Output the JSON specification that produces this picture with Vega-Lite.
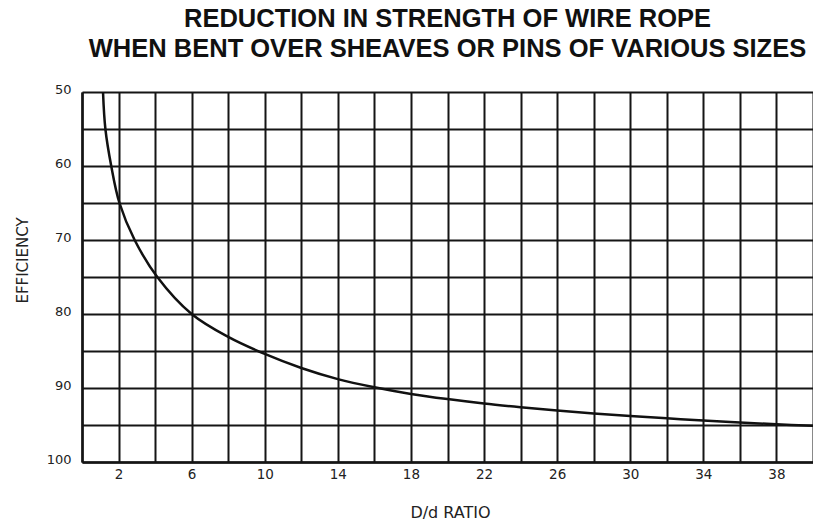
{
  "$schema": "https://vega.github.io/schema/vega-lite/v6.json",
  "width": 731,
  "height": 370,
  "autosize": {"type": "none"},
  "padding": {"left": 82, "top": 92, "right": 0, "bottom": 61},
  "background": "white",
  "title": {
    "text": ["REDUCTION IN STRENGTH OF WIRE ROPE", "WHEN BENT OVER SHEAVES OR PINS OF VARIOUS SIZES"],
    "font": "Liberation Sans",
    "fontSize": 25.5,
    "fontWeight": "bold",
    "color": "#111",
    "lineHeight": 30,
    "anchor": "middle",
    "frame": "group",
    "offset": 21
  },
  "config": {
    "view": {"stroke": null},
    "axis": {
      "labelFont": "DejaVu Sans",
      "labelFontSize": 13,
      "labelColor": "#222",
      "titleFont": "DejaVu Sans",
      "titleColor": "#222",
      "titleFontWeight": "normal",
      "gridColor": "#151515",
      "gridWidth": 2,
      "gridOpacity": 1,
      "ticks": false,
      "domainColor": "#151515",
      "domainWidth": 2.5
    }
  },
  "data": {
    "values": [
      {"ratio": 1.15, "eff": 50},
      {"ratio": 1.28, "eff": 55},
      {"ratio": 1.6, "eff": 60},
      {"ratio": 2.05, "eff": 65},
      {"ratio": 2.88, "eff": 70},
      {"ratio": 4.12, "eff": 75},
      {"ratio": 6, "eff": 80},
      {"ratio": 8, "eff": 83.1},
      {"ratio": 10, "eff": 85.4},
      {"ratio": 12, "eff": 87.3},
      {"ratio": 14, "eff": 88.8},
      {"ratio": 16, "eff": 89.9},
      {"ratio": 18, "eff": 90.8},
      {"ratio": 20, "eff": 91.5},
      {"ratio": 22, "eff": 92.1},
      {"ratio": 24, "eff": 92.6},
      {"ratio": 26, "eff": 93.05},
      {"ratio": 28, "eff": 93.45},
      {"ratio": 30, "eff": 93.8},
      {"ratio": 32, "eff": 94.1},
      {"ratio": 34, "eff": 94.4},
      {"ratio": 36, "eff": 94.65},
      {"ratio": 38, "eff": 94.9},
      {"ratio": 40, "eff": 95.1}
    ]
  },
  "mark": {"type": "line", "color": "#111", "strokeWidth": 2.5, "interpolate": "catmull-rom", "clip": true},
  "encoding": {
    "x": {
      "field": "ratio",
      "type": "quantitative",
      "scale": {"domain": [0, 40], "nice": false},
      "axis": {
        "values": [0, 2, 4, 6, 8, 10, 12, 14, 16, 18, 20, 22, 24, 26, 28, 30, 32, 34, 36, 38, 40],
        "labelExpr": "(datum.value + 2) % 4 == 0 ? datum.label : ''",
        "labelPadding": 5,
        "labelFontSize": 13.5,
        "title": "D/d RATIO",
        "titleFontSize": 16,
        "titleX": 368,
        "titleY": 50,
        "titleBaseline": "middle"
      }
    },
    "y": {
      "field": "eff",
      "type": "quantitative",
      "scale": {"domain": [50, 100], "nice": false, "zero": false, "reverse": true},
      "axis": {
        "values": [50, 55, 60, 65, 70, 75, 80, 85, 90, 95, 100],
        "labelExpr": "datum.value % 10 == 0 ? datum.label : ''",
        "labelPadding": 11,
        "labelOffset": -3,
        "title": "EFFICIENCY",
        "titleFontSize": 15,
        "titleAngle": -90,
        "titleX": -60,
        "titleY": 168,
        "titleAlign": "center",
        "titleBaseline": "middle"
      }
    }
  }
}
